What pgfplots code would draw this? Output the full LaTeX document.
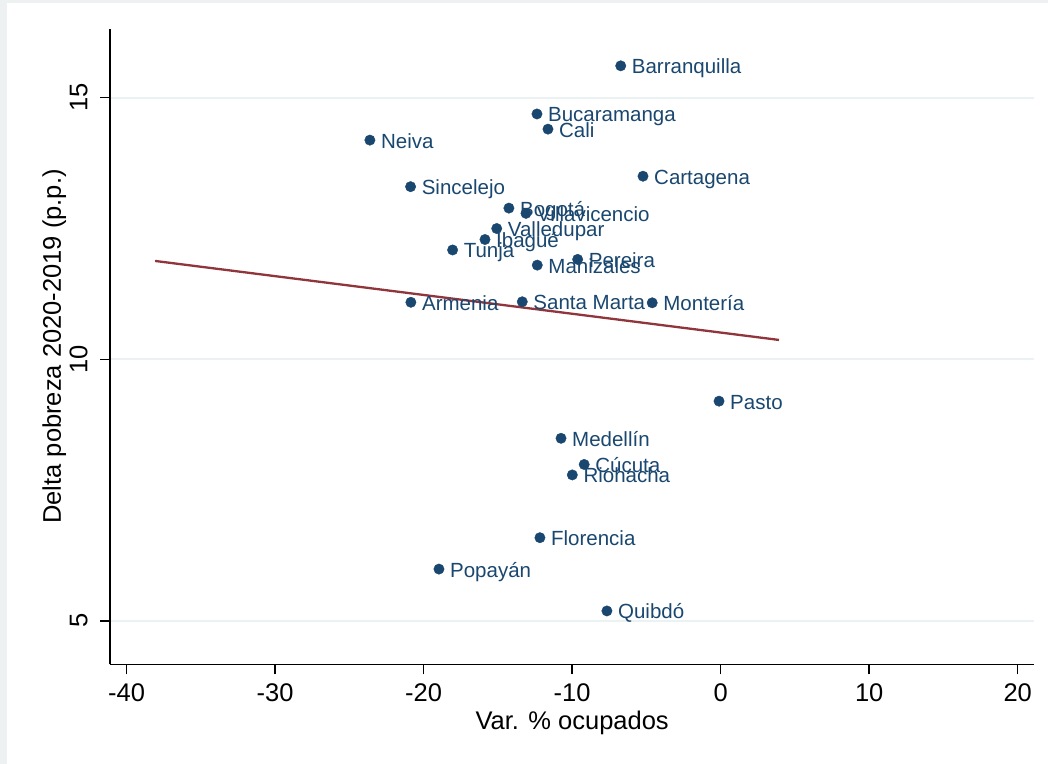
\documentclass[border=0pt]{standalone}
\usepackage{fontspec}
\setmainfont{Liberation Sans}
\usepackage{pgfplots}
\usepackage{pgfplotstable}
\pgfplotsset{compat=1.18}
\definecolor{stnavy}{RGB}{26,71,111}
\definecolor{stmaroon}{RGB}{144,53,59}
\definecolor{stgrid}{RGB}{234,242,243}
\definecolor{stouter}{RGB}{238,241,242}

\pgfplotstableread[col sep=comma]{
x,y,label
-6.73,15.61,Barranquilla
-12.37,14.69,Bucaramanga
-11.63,14.40,Cali
-23.62,14.19,Neiva
-5.23,13.50,Cartagena
-20.88,13.30,Sincelejo
-14.26,12.89,Bogotá
-13.11,12.79,Villavicencio
-15.08,12.50,Valledupar
-15.87,12.29,Ibagué
-18.05,12.09,Tunja
-12.35,11.80,Manizales
-9.63,11.91,Pereira
-20.86,11.09,Armenia
-13.36,11.10,Santa Marta
-4.61,11.08,Montería
-0.11,9.20,Pasto
-10.75,8.49,Medellín
-9.19,7.99,Cúcuta
-9.99,7.79,Riohacha
-12.17,6.59,Florencia
-18.97,5.99,Popayán
-7.66,5.19,Quibdó
}\cities

\begin{document}
\begin{tikzpicture}[x=1bp,y=1bp]
\fill[stouter] (0,0) rectangle (1048,764);
\fill[white] (7,0) rectangle (1048,761);
\begin{axis}[
  at={(110bp,99.7bp)}, anchor=south west,
  scale only axis, width=924.3bp, height=635.6bp,
  xmin=-41.12, xmax=21.12, ymin=4.17, ymax=16.32,
  axis x line*=bottom, axis y line*=left,
  axis line style={black, line width=1.5bp, -},
  xtick={-40,-30,-20,-10,0,10,20}, ytick={5,10,15},
  tick align=outside, major tick length=10bp,
  tick style={black, line width=1.5bp},
  ymajorgrids, grid style={stgrid, line width=2bp},
  /pgf/number format/assume math mode=true,
  ticklabel style={font=\fontsize{25.5bp}{30bp}\selectfont, text=black},
  xticklabel style={anchor=base, inner sep=0pt, yshift=-27bp},
  yticklabel style={rotate=90, anchor=base, inner sep=0pt, yshift=12.5bp},
  xlabel={Var. \% ocupados},
  ylabel={Delta pobreza 2020-2019 (p.p.)},
  label style={font=\fontsize{25.5bp}{30bp}\selectfont, text=black},
  xlabel style={at={(axis description cs:0.5,0)}, anchor=base, inner sep=0pt, yshift=-65.7bp},
  ylabel style={at={(axis description cs:0,0.5)}, anchor=base, inner sep=0pt, yshift=49bp},
  clip=false,
]
\addplot[only marks, mark=*, mark size=5.2bp,
  mark options={fill=stnavy, draw=stnavy, line width=0.4bp},
  nodes near coords, point meta=explicit symbolic,
  nodes near coords align={anchor=base west},
  nodes near coords style={anchor=base west, inner sep=0pt, xshift=11bp, yshift=-8bp,
    font=\fontsize{20.5bp}{24bp}\selectfont, text=stnavy}]
  table[x=x, y=y, meta=label] {\cities};
\addplot[stmaroon, line width=2.3bp] coordinates {(-38.08,11.88) (3.93,10.37)};
\end{axis}
\end{tikzpicture}
\end{document}
